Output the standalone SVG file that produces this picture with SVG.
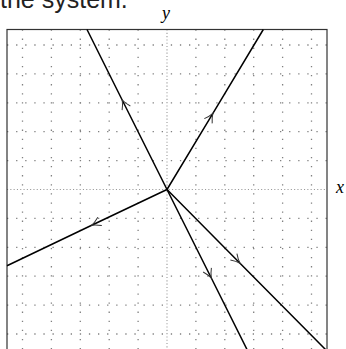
<svg xmlns="http://www.w3.org/2000/svg" width="346" height="349" viewBox="0 0 346 349">
<style>
.grid{stroke:#808080;stroke-width:1.3;stroke-dasharray:1.3 7.8;fill:none}
.axis{stroke:#999;stroke-width:1.1;stroke-dasharray:1.1 2.2;fill:none}
.frame{stroke:#333;stroke-width:1.2;fill:none}
.traj{stroke:#000;stroke-width:1.5;fill:none;marker-mid:url(#arr)}
.lab{font-family:"Liberation Serif",serif;font-style:italic;font-size:18px;fill:#000}
</style>
<defs>
<marker id="arr" markerUnits="userSpaceOnUse" orient="auto" markerWidth="14" markerHeight="14" refX="0" refY="0" viewBox="-11 -7 14 14" overflow="visible">
<path d="M-9,-4.6 Q-4,-1.2 0,0 Q-4,1.2 -9,4.6" fill="none" stroke="#333" stroke-width="1"/>
</marker>
</defs>
<rect width="346" height="349" fill="#fff"/>
<text x="0" y="8" font-family="Liberation Sans, Arial, sans-serif" font-size="25" fill="#222">the system.</text>
<g id="grid">
<path class="grid" d="M22.5,29.5V349.5M51.4,29.5V349.5M80.3,29.5V349.5M109.2,29.5V349.5M138.1,29.5V349.5M195.9,29.5V349.5M224.8,29.5V349.5M253.7,29.5V349.5M282.6,29.5V349.5M311.5,29.5V349.5"/>
<path class="grid" d="M7,45H327M7,73.9H327M7,102.8H327M7,131.7H327M7,160.6H327M7,218.4H327M7,247.3H327M7,276.2H327M7,305.1H327M7,334H327"/>
</g>
<g id="axes">
<path class="axis" d="M167,29.5V349.5M7,189.5H327"/>
</g>
<g id="frame">
<rect class="frame" x="7" y="29.5" width="320" height="322"/>
</g>
<g id="connectors">
<path class="traj" d="M167,189.5L122.2,100L87,29.5"/>
<path class="traj" d="M167,189.5L212.9,113.3L263.3,29.5"/>
<path class="traj" d="M167,189.5L91.7,225.3L7,265.7"/>
<path class="traj" d="M167,189.5L211.3,278L247,349.5"/>
<path class="traj" d="M167,189.5L240,263.2L325.5,349.5"/>
</g>
<g id="labels">
<text class="lab" x="166" y="18.5" text-anchor="middle">y</text>
<text class="lab" x="340" y="192.5" text-anchor="middle">x</text>
</g>
</svg>
